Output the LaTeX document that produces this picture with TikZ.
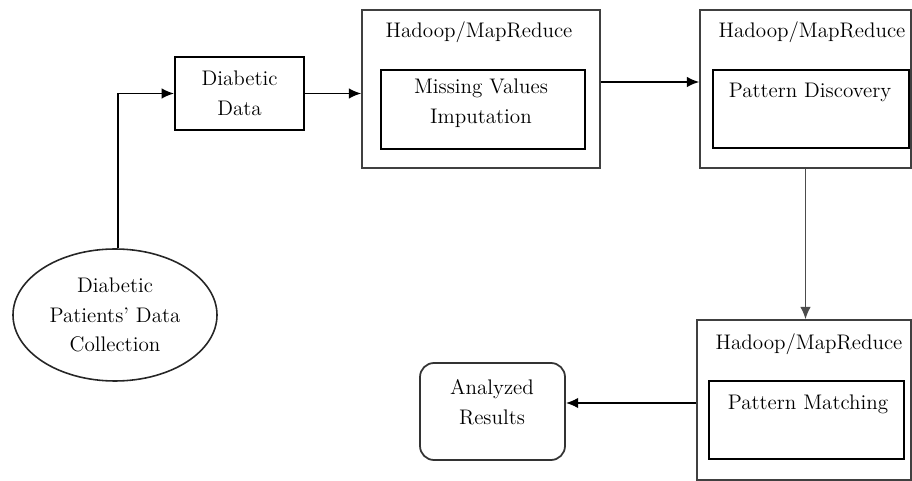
\documentclass[tikz,border=0pt]{standalone}
\usetikzlibrary{arrows.meta, positioning, shapes.geometric}

\tikzset{
  mrbox/.style={draw=black!75, line width=0.9pt, inner sep=0pt},
  stagebox/.style={draw=black, line width=1.2pt, inner sep=0pt},
  txt/.style={align=center, font=\fontsize{12}{17}\selectfont},
  flow/.style={-{Latex[length=7pt, width=6pt]}, line width=1pt},
  drop/.style={-{Latex[length=7pt, width=6pt]}, draw=black!70, line width=0.8pt}
}

\begin{document}
\begin{tikzpicture}
  \useasboundingbox (0,0) rectangle (18.24,-9.62);

  % Source
  \node[ellipse, draw=black!85, line width=0.9pt, minimum width=4.08cm, minimum height=2.64cm, inner sep=0pt, txt] (collect) at (2.3, -6.3) {Diabetic\\Patients' Data\\Collection};
  \node[stagebox, minimum width=2.58cm, minimum height=1.46cm, txt] (data) at (4.79, -1.87) {Diabetic\\Data};

  % First Hadoop stage
  \node[mrbox, minimum width=4.76cm, minimum height=3.16cm] (hadoopA) at (9.62, -1.78) {};
  \node[txt] (titleA) at (9.58, -0.64) {Hadoop/MapReduce};
  \node[stagebox, minimum width=4.08cm, minimum height=1.58cm] (impute) at (9.66, -2.19) {};
  \node[txt] (imputeText) at (9.62, -2.06) {Missing Values\\Imputation};

  % Second Hadoop stage
  \node[mrbox, minimum width=4.22cm, minimum height=3.16cm] (hadoopB) at (16.11, -1.78) {};
  \node[txt] (titleB) at (16.24, -0.64) {Hadoop/MapReduce};
  \node[stagebox, minimum width=3.92cm, minimum height=1.56cm] (discover) at (16.22, -2.18) {};
  \node[txt] (discoverText) at (16.2, -1.84) {Pattern Discovery};

  % Third Hadoop stage
  \node[mrbox, minimum width=4.28cm, minimum height=3.2cm] (hadoopC) at (16.08, -8.0) {};
  \node[txt] (titleC) at (16.18, -6.88) {Hadoop/MapReduce};
  \node[stagebox, minimum width=3.9cm, minimum height=1.56cm] (match) at (16.13, -8.4) {};
  \node[txt] (matchText) at (16.16, -8.08) {Pattern Matching};

  % Output
  \node[draw=black!80, line width=1pt, rounded corners=8pt, minimum width=2.9cm, minimum height=1.94cm, inner sep=0pt] (result) at (9.85, -8.23) {};
  \node[txt] (resultText) at (9.84, -8.04) {Analyzed\\Results};

  % Connectors
  \draw[flow, line width=0.9pt] ([xshift=0.06cm]collect.north) |- (data.west);
  \draw[flow] (data.east) -- (data.east -| hadoopA.west);
  \draw[flow] ([yshift=0.14cm]hadoopA.east) -- ([yshift=0.14cm]hadoopB.west);
  \draw[drop] (hadoopB.south) -- (hadoopB.south |- hadoopC.north);
  \draw[flow] ([yshift=-0.06cm]hadoopC.west) -- ([yshift=-0.06cm]hadoopC.west -| result.east);
\end{tikzpicture}
\end{document}
